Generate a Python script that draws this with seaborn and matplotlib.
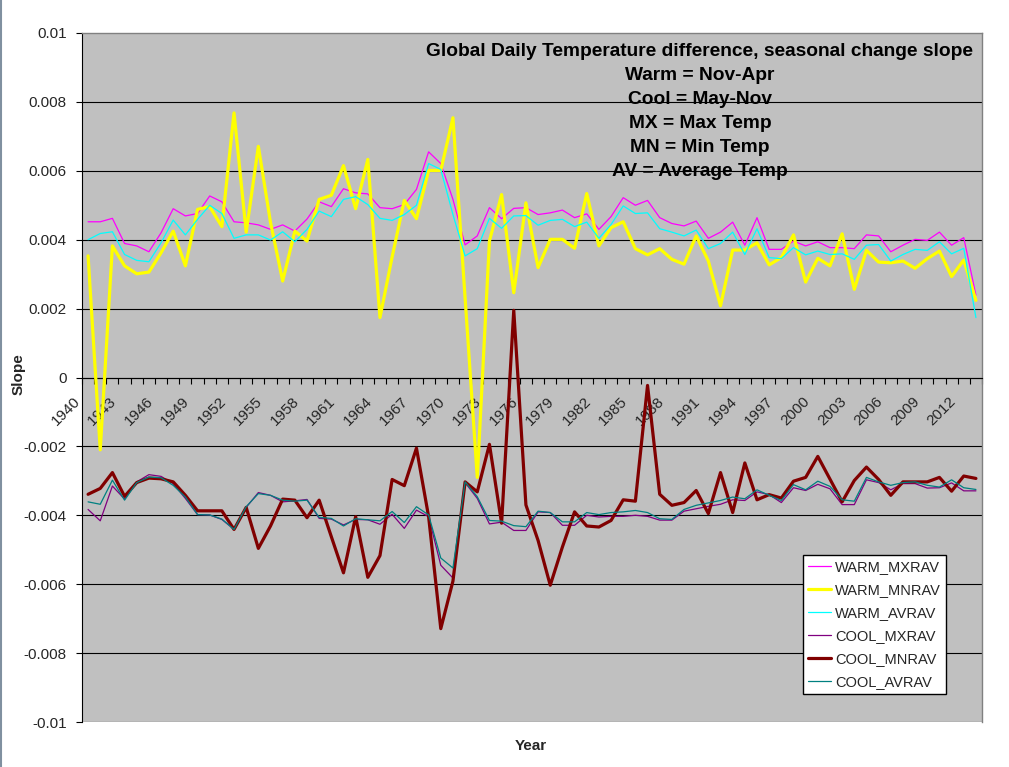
import numpy as np
import matplotlib
matplotlib.use("Agg")
import matplotlib.pyplot as plt
import matplotlib.transforms as mtransforms
import seaborn as sns

# data
years = list(range(1940, 2014))

warm_mxrav = [0.00452, 0.00452, 0.00462, 0.00389, 0.00382, 0.00365, 0.0042, 0.0049, 0.00469, 0.00476,
              0.00527, 0.0051, 0.00452, 0.00449, 0.00443, 0.0043, 0.00443, 0.00425, 0.0046, 0.0051,
              0.00496, 0.00548, 0.00536, 0.00533, 0.00493, 0.0049, 0.00502, 0.00546, 0.00655, 0.00621,
              0.00517, 0.00385, 0.00411, 0.00493, 0.00461, 0.00491, 0.00493, 0.00473, 0.00478, 0.00486,
              0.00464, 0.00475, 0.0043, 0.00467, 0.00522, 0.005, 0.00514, 0.00464, 0.00447, 0.0044,
              0.00454, 0.00404, 0.00422, 0.00451, 0.00384, 0.00464, 0.00372, 0.00372, 0.00396, 0.00382,
              0.00394, 0.00377, 0.00377, 0.00374, 0.00414, 0.00411, 0.00365, 0.00384, 0.00401, 0.00398,
              0.00422, 0.00384, 0.00406, 0.00239]

warm_mnrav = [0.00353, -0.0021, 0.00382, 0.00324, 0.00301, 0.00306, 0.00362, 0.00425, 0.00324, 0.00488,
              0.00496, 0.00438, 0.00768, 0.00422, 0.00671, 0.0045, 0.0028, 0.00425, 0.00396, 0.00517,
              0.00529, 0.00615, 0.0049, 0.00633, 0.00174, 0.0035, 0.00514, 0.00461, 0.00601, 0.00601,
              0.00754, 0.0023, -0.0029, 0.00396, 0.00531, 0.00246, 0.00507, 0.00319, 0.00401, 0.00401,
              0.00375, 0.00534, 0.00382, 0.00435, 0.00452, 0.00374, 0.00356, 0.00374, 0.00343, 0.00329,
              0.00411, 0.00338, 0.00208, 0.0037, 0.0037, 0.00391, 0.00327, 0.00348, 0.00414, 0.00277,
              0.00346, 0.00324, 0.00417, 0.00256, 0.00369, 0.00335, 0.00333, 0.00338, 0.00317, 0.00345,
              0.00367, 0.00293, 0.00341, 0.00224]

warm_avrav = [0.004, 0.00418, 0.00423, 0.00357, 0.0034, 0.00336, 0.00391, 0.00457, 0.00414, 0.00459,
              0.005, 0.00476, 0.00404, 0.00414, 0.00414, 0.00399, 0.00423, 0.00394, 0.0043, 0.00483,
              0.00467, 0.00517, 0.00525, 0.00502, 0.00462, 0.00456, 0.00473, 0.005, 0.00621, 0.00604,
              0.00473, 0.00353, 0.00374, 0.00462, 0.00433, 0.00469, 0.0047, 0.00442, 0.00456, 0.00459,
              0.00438, 0.00451, 0.00404, 0.00444, 0.00498, 0.00476, 0.00478, 0.00432, 0.00422, 0.00411,
              0.00428, 0.00374, 0.00389, 0.00422, 0.00357, 0.00432, 0.00348, 0.00345, 0.00377, 0.00356,
              0.00367, 0.00357, 0.00359, 0.00343, 0.00384, 0.00386, 0.00338, 0.00357, 0.00372, 0.00369,
              0.00394, 0.00359, 0.00375, 0.00174]

cool_mxrav = [-0.00383, -0.00416, -0.00315, -0.00353, -0.00303, -0.00282, -0.00287, -0.00308, -0.00351, -0.00398,
              -0.00399, -0.00412, -0.00441, -0.00377, -0.00334, -0.00342, -0.00361, -0.00358, -0.00354, -0.00409,
              -0.00411, -0.00428, -0.00412, -0.00413, -0.00426, -0.00397, -0.00438, -0.00385, -0.00404, -0.00545,
              -0.00582, -0.00305, -0.00351, -0.00425, -0.0042, -0.00444, -0.00444, -0.0039, -0.00392, -0.00429,
              -0.00429, -0.004, -0.00405, -0.00403, -0.00403, -0.004, -0.00403, -0.00414, -0.00414, -0.00388,
              -0.00381, -0.00374, -0.00368, -0.00355, -0.00357, -0.00332, -0.0034, -0.00363, -0.0032, -0.00328,
              -0.0031, -0.00323, -0.00369, -0.00369, -0.00297, -0.00305, -0.00326, -0.00308, -0.00308, -0.00321,
              -0.0032, -0.00306, -0.00329, -0.00329]

cool_mnrav = [-0.00339, -0.00322, -0.00276, -0.00345, -0.00305, -0.00292, -0.00294, -0.00303, -0.00342, -0.00387,
              -0.00387, -0.00387, -0.00441, -0.00377, -0.00496, -0.00431, -0.00353, -0.00356, -0.00407, -0.00356,
              -0.00462, -0.00567, -0.00404, -0.0058, -0.00517, -0.00296, -0.00314, -0.00205, -0.00404, -0.00729,
              -0.00591, -0.00303, -0.00332, -0.00194, -0.00423, 0.00195, -0.0037, -0.00473, -0.00603, -0.00492,
              -0.0039, -0.00431, -0.00434, -0.00415, -0.00355, -0.00359, -0.00023, -0.00339, -0.00371, -0.00363,
              -0.00328, -0.00395, -0.00276, -0.00392, -0.00248, -0.00355, -0.0034, -0.0035, -0.00301, -0.0029,
              -0.00229, -0.00295, -0.00361, -0.00299, -0.0026, -0.00296, -0.00342, -0.00303, -0.00303, -0.00303,
              -0.0029, -0.0033, -0.00286, -0.00293]

cool_avrav = [-0.00361, -0.00368, -0.00298, -0.00356, -0.00305, -0.00289, -0.00291, -0.00313, -0.00347, -0.00398,
              -0.00399, -0.00411, -0.00441, -0.00375, -0.00337, -0.00342, -0.00356, -0.00359, -0.00356, -0.00406,
              -0.00409, -0.00431, -0.0041, -0.00413, -0.00416, -0.00389, -0.00421, -0.00375, -0.00399, -0.00524,
              -0.00553, -0.00303, -0.00346, -0.00415, -0.00417, -0.0043, -0.00433, -0.00388, -0.00392, -0.00419,
              -0.00419, -0.00392, -0.00398, -0.00392, -0.0039, -0.00386, -0.00392, -0.0041, -0.00412, -0.00383,
              -0.00371, -0.00364, -0.00357, -0.00347, -0.00352, -0.00326, -0.00342, -0.00357, -0.00311, -0.00326,
              -0.00301, -0.00316, -0.00355, -0.00359, -0.0029, -0.00303, -0.00313, -0.00305, -0.00303, -0.00313,
              -0.00318, -0.00297, -0.0032, -0.00325]

series_names = ["WARM_MXRAV", "WARM_MNRAV", "WARM_AVRAV", "COOL_MXRAV", "COOL_MNRAV", "COOL_AVRAV"]
series_values = [warm_mxrav, warm_mnrav, warm_avrav, cool_mxrav, cool_mnrav, cool_avrav]
series_colors = ["#FF00FF", "#FFFF00", "#00FFFF", "#800080", "#800000", "#008080"]
series_widths = [0.9, 2.3, 0.9, 0.9, 2.3, 0.9]

y_ticks = [-0.01, -0.008, -0.006, -0.004, -0.002, 0, 0.002, 0.004, 0.006, 0.008, 0.01]
y_ticklabels = ["-0.01", "-0.008", "-0.006", "-0.004", "-0.002", "0", "0.002", "0.004", "0.006", "0.008", "0.01"]
x_label_years = list(range(1940, 2014, 3))

title_lines = ["Global Daily Temperature difference, seasonal change slope",
               "Warm = Nov-Apr", "Cool = May-Nov", "MX = Max Temp", "MN = Min Temp", "AV = Average Temp"]

sns.set_style("white")
plt.rcParams['font.family'] = ['Liberation Sans', 'DejaVu Sans']

W, H = 1009, 767
fig = plt.figure(figsize=(W / 100, H / 100), dpi=100)
fig.patch.set_facecolor("white")
ax = fig.add_axes([82 / W, 1 - 722 / H, 900 / W, 689 / H])
ax.set_facecolor("#C0C0C0")

for name, vals, col, lw in zip(series_names, series_values, series_colors, series_widths):
    sns.lineplot(x=years, y=vals, color=col, linewidth=lw, label=name, ax=ax, zorder=3)

ax.set_xlim(1939.5, 2013.5)
ax.set_ylim(-0.01, 0.01)

# y axis
ax.set_yticks(y_ticks)
ax.set_yticklabels(y_ticklabels, fontsize=11)
ax.tick_params(axis='y', direction='out', length=4, width=0.8, color='black', pad=7, left=True)
ax.yaxis.grid(True, color='black', linewidth=0.8)
ax.get_ygridlines()[-1].set_visible(False)
ax.set_axisbelow(True)

# x axis crossing at zero, ticks between categories
ax.spines['bottom'].set_position(('data', 0))
ax.spines['bottom'].set_color('black')
ax.spines['bottom'].set_linewidth(0.8)
ax.spines['bottom'].set_zorder(2.6)
ax.spines['left'].set_color('black')
ax.spines['left'].set_linewidth(0.8)
for s in ['top', 'right']:
    ax.spines[s].set_color('#808080')
    ax.spines[s].set_linewidth(1.0)

ax.set_xticks(x_label_years)
ax.set_xticklabels([str(y) for y in x_label_years], fontsize=11, rotation=45,
                   ha='right', va='top', rotation_mode='anchor')
ax.set_xticks(np.arange(1939.5, 2014, 1), minor=True)
ax.tick_params(axis='x', which='major', length=0, pad=0, bottom=True)
ax.tick_params(axis='x', which='minor', direction='out', length=4, width=0.8, color='black', bottom=True)
shift = mtransforms.ScaledTranslation(-0.15, -0.17, fig.dpi_scale_trans)
for lab in ax.get_xticklabels():
    lab.set_transform(lab.get_transform() + shift)

ax.set_xlabel("")
ax.set_ylabel("Slope", fontsize=11, fontweight='bold')
ax.yaxis.set_label_coords((26 - 82) / 900, (722 - 374) / 689)

fig.text(531 / W, 1 - 746 / H, "Year", ha='center', va='center', fontsize=11, fontweight='bold')

for k, line in enumerate(title_lines):
    fig.text(700 / W, 1 - (52 + 24 * k) / H, line, ha='center', va='center',
             fontsize=13.8, fontweight='bold', color='black', zorder=5)

leg = ax.legend(loc='upper left', bbox_to_anchor=(803 / W, 1 - 555 / H), bbox_transform=fig.transFigure,
                frameon=True, fancybox=False, framealpha=1, edgecolor='black', fontsize=10.5,
                borderaxespad=0, borderpad=0.35, labelspacing=0.62, handlelength=1.6, handletextpad=0.25)
leg.get_frame().set_linewidth(1.0)
leg.set_zorder(6)

# thin frame line at left edge of the picture
fig.add_artist(plt.Line2D([0.5 / W, 0.5 / W], [0, 1], color='#8090A0', linewidth=1.5, transform=fig.transFigure))

fig.savefig("out.png", dpi=100)
plt.close(fig)
